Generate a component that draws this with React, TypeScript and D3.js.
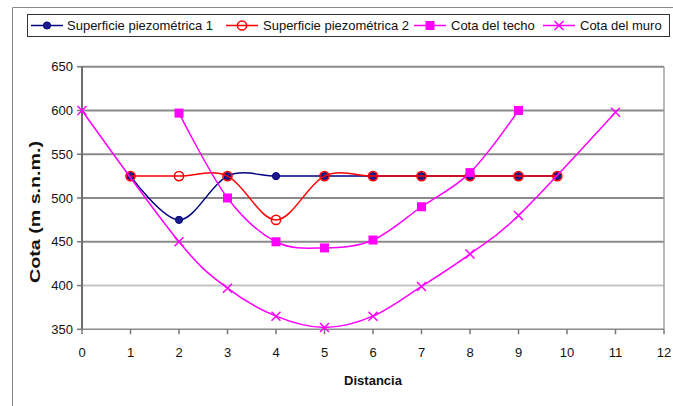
import React from "react";
import * as d3 from "d3";

const xTicks = [0, 1, 2, 3, 4, 5, 6, 7, 8, 9, 10, 11, 12];
const yTicks = [350, 400, 450, 500, 550, 600, 650];

const piezo1X = [1, 2, 3, 4, 5, 6, 7, 8, 9, 9.8];
const piezo1Y = [525, 475, 525, 525, 525, 525, 525, 525, 525, 525];

const piezo2X = [1, 2, 3, 4, 5, 6, 7, 8, 9, 9.8];
const piezo2Y = [525, 525, 525, 475, 525, 525, 525, 525, 525, 525];

const techoX = [2, 3, 4, 5, 6, 7, 8, 9];
const techoY = [597, 500, 450, 443, 452, 490, 529, 600];

const muroX = [0, 2, 3, 4, 5, 6, 7, 8, 9, 11];
const muroY = [600, 450, 397, 365, 352, 365, 399, 436, 480, 598];

const seriesNames = [
  "Superficie piezométrica 1",
  "Superficie piezométrica 2",
  "Cota del techo",
  "Cota del muro",
];

const NAVY = "#000080";
const RED = "#ff0000";
const MAG = "#ff00ff";
const FONT = "Arial, 'Liberation Sans', sans-serif";

const W = 673;
const H = 406;
const L = 82, R = 664, T = 66.7, B = 329.3;

const x = d3.scaleLinear().domain([0, 12]).range([L, R]);
const y = d3.scaleLinear().domain([350, 650]).range([B, T]);

const line = d3
  .line<[number, number]>()
  .x((d) => x(d[0]))
  .y((d) => y(d[1]))
  .curve(d3.curveCardinal.tension(0));

function pts(xs: number[], ys: number[]): [number, number][] {
  return xs.map((v, i) => [v, ys[i]]);
}

function Marker({ kind, cx, cy }: { kind: number; cx: number; cy: number }) {
  if (kind === 0)
    return <circle cx={cx} cy={cy} r={3.6} fill="#1c1c8a" stroke={NAVY} strokeWidth={1} />;
  if (kind === 1)
    return <circle cx={cx} cy={cy} r={4.6} fill="none" stroke={RED} strokeWidth={1.5} />;
  if (kind === 2)
    return <rect x={cx - 4.5} y={cy - 4.5} width={9} height={9} fill={MAG} />;
  const s = 4.5;
  return (
    <path
      d={`M${cx - s},${cy - s}L${cx + s},${cy + s}M${cx - s},${cy + s}L${cx + s},${cy - s}`}
      stroke={MAG}
      strokeWidth={1.5}
      fill="none"
    />
  );
}

export default function App() {
  const series = [
    { data: pts(piezo1X, piezo1Y), color: NAVY },
    { data: pts(piezo2X, piezo2Y), color: RED },
    { data: pts(techoX, techoY), color: MAG },
    { data: pts(muroX, muroY), color: MAG },
  ];
  const legendItems = [
    { sx: 31, tx: 67 },
    { sx: 226, tx: 263 },
    { sx: 414, tx: 451 },
    { sx: 543, tx: 580 },
  ];
  return (
    <svg
      width={W}
      height={H}
      style={{ position: "absolute", left: 0, top: 0, background: "#fff" }}
      fontFamily={FONT}
    >
      <rect x={0} y={0} width={W} height={H} fill="#fff" />
      {/* outer frame */}
      <path d={`M12.5,${H + 2}V7.5H${W + 2}`} stroke="#8a8a8a" strokeWidth={1} fill="none" />

      {/* gridlines */}
      {yTicks
        .filter((t) => t > 350)
        .map((t) => (
          <line
            key={t}
            x1={L}
            x2={R}
            y1={y(t)}
            y2={y(t)}
            stroke={t === 400 ? "#c4c4c4" : "#8a8a8a"}
            strokeWidth={2}
          />
        ))}
      {/* right border */}
      <line x1={R} x2={R} y1={T} y2={B} stroke="#a0a0a0" strokeWidth={1.5} />
      {/* axes */}
      <line x1={L} x2={R} y1={B} y2={B} stroke="#8a8a8a" strokeWidth={1.5} />
      <line x1={L} x2={L} y1={T} y2={B} stroke="#6e6e6e" strokeWidth={2} />
      {yTicks.map((t) => (
        <g key={t}>
          <line x1={L - 5} x2={L} y1={y(t)} y2={y(t)} stroke="#777" strokeWidth={1.5} />
          <text x={73} y={y(t)} dy="0.36em" textAnchor="end" fontSize={13} fill="#111">
            {t}
          </text>
        </g>
      ))}
      {xTicks.map((t) => (
        <g key={t}>
          <line x1={x(t)} x2={x(t)} y1={B} y2={B + 5} stroke="#777" strokeWidth={1.5} />
          <text x={x(t)} y={357} textAnchor="middle" fontSize={13} fill="#111">
            {t}
          </text>
        </g>
      ))}
      <text x={(L + R) / 2} y={385} textAnchor="middle" fontSize={13} fontWeight="bold" fill="#111">
        Distancia
      </text>
      <text
        transform={`translate(40,${212}) rotate(-90)`}
        textAnchor="middle"
        fontSize={14}
        fontWeight="bold"
        fill="#111"
        textLength={142}
        lengthAdjust="spacingAndGlyphs"
      >
        Cota (m s.n.m.)
      </text>

      {/* series */}
      {series.map((s, i) => (
        <g key={i}>
          <path d={line(s.data) || ""} fill="none" stroke={s.color} strokeWidth={1.5} />
          {s.data.map((d, j) => (
            <Marker key={j} kind={i} cx={x(d[0])} cy={y(d[1])} />
          ))}
        </g>
      ))}

      {/* legend */}
      <rect x={27.5} y={14.5} width={642} height={22} fill="#fff" stroke="#333" strokeWidth={1} />
      {legendItems.map((it, i) => (
        <g key={i}>
          <line
            x1={it.sx}
            x2={it.sx + 32}
            y1={25.5}
            y2={25.5}
            stroke={series[i].color}
            strokeWidth={1.5}
          />
          <Marker kind={i} cx={it.sx + 16} cy={25.5} />
          <text x={it.tx} y={30} fontSize={13} fill="#111">
            {seriesNames[i]}
          </text>
        </g>
      ))}
    </svg>
  );
}
